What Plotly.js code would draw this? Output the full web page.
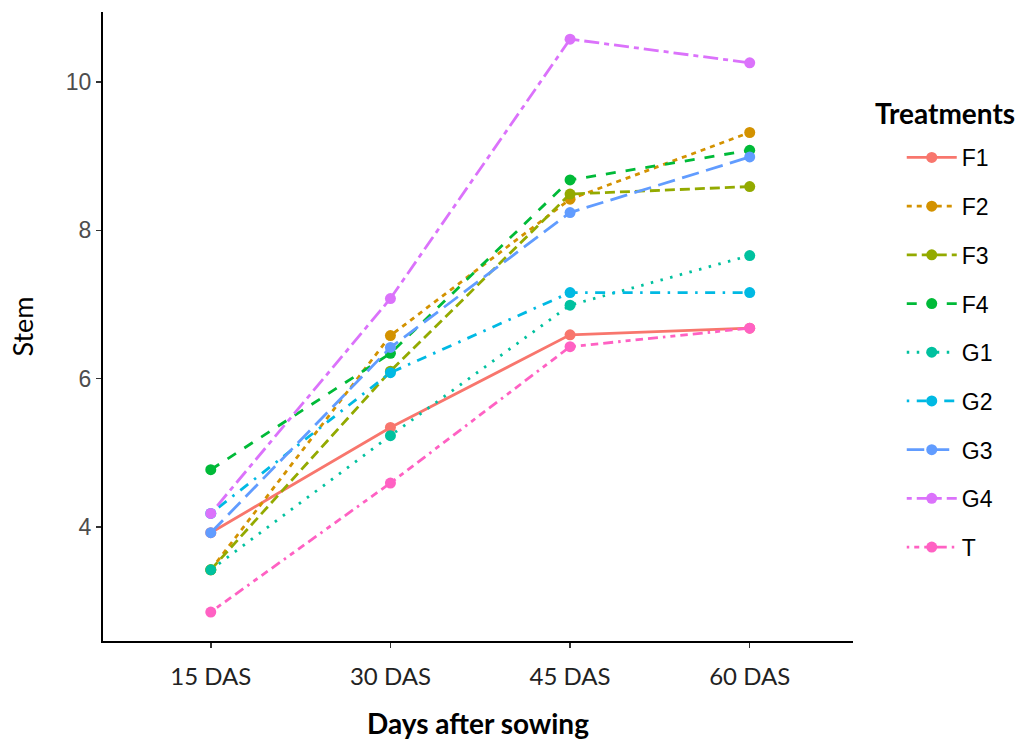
<!DOCTYPE html>
<html>
<head>
<meta charset="utf-8">
<script src="https://cdn.plot.ly/plotly-3.0.1.min.js"></script>
<style>html,body{margin:0;padding:0;background:#fff;}#chart{width:1022px;height:740px;}</style>
</head>
<body>
<div id="chart"></div>
<script>
const days = ["15 DAS", "30 DAS", "45 DAS", "60 DAS"];
const treatments = ["F1", "F2", "F3", "F4", "G1", "G2", "G3", "G4", "T"];
const F1 = [3.92, 5.34, 6.59, 6.68];
const F2 = [3.42, 6.58, 8.42, 9.32];
const F3 = [3.42, 6.10, 8.49, 8.59];
const F4 = [4.77, 6.34, 8.68, 9.08];
const G1 = [3.42, 5.23, 6.99, 7.66];
const G2 = [4.18, 6.08, 7.16, 7.16];
const G3 = [3.92, 6.42, 8.24, 8.99];
const G4 = [4.18, 7.08, 10.58, 10.26];
const T  = [2.85, 4.59, 6.43, 6.68];
const seriesValues = [F1, F2, F3, F4, G1, G2, G3, G4, T];

const colors = ["#F8766D", "#D39200", "#93AA00", "#00BA38", "#00C19F", "#00B9E3", "#619CFF", "#DB72FB", "#FF61C3"];
const dashes = ["solid", "5px,5px", "10px,5px", "10px,10px", "2.5px,7.5px", "2.5px,7.5px,10px,7.5px", "17.5px,7.5px", "5px,5px,15px,5px", "2.5px,5px,5px,5px,7.5px,5px,10px,5px"];

const traces = treatments.map((name, i) => ({
  type: "scatter",
  mode: "lines+markers",
  name: name,
  x: days,
  y: seriesValues[i],
  legendgroup: name,
  line: {color: colors[i], width: 2.8, dash: dashes[i]},
  marker: {color: colors[i], size: 11}
}));

const layout = {
  width: 1022, height: 740,
  paper_bgcolor: "#fff", plot_bgcolor: "#fff",
  margin: {l: 103, r: 169, t: 12, b: 99},
  showlegend: true,
  legend: {
    x: 1.065, xanchor: "left", y: 0.8029, yanchor: "top",
    font: {family: "Liberation Sans, Arial, sans-serif", size: 23, color: "#000"},
    tracegroupgap: 15.8,
    itemwidth: 50
  },
  annotations: [{
    text: "<b>Treatments</b>", showarrow: false,
    xref: "paper", yref: "paper", x: 1.0267, xanchor: "left", y: 0.8394, yanchor: "middle",
    font: {family: "Lato, Open Sans, sans-serif", size: 28, color: "#000"}
  }],
  xaxis: {
    type: "category",
    range: [-0.6, 3.575],
    showgrid: false, zeroline: false,
    showline: true, linecolor: "#000", linewidth: 2,
    ticks: "outside", ticklen: 5, tickwidth: 1.5, tickcolor: "#333",
    ticklabelstandoff: 8,
    tickfont: {family: "Lato, Open Sans, sans-serif", size: 24, color: "#222"},
    title: {text: "<b>Days after sowing</b>", font: {family: "Lato, Open Sans, sans-serif", size: 28, color: "#000"}, standoff: 27}
  },
  yaxis: {
    range: [2.459, 10.946],
    tickvals: [4, 6, 8, 10],
    showgrid: false, zeroline: false,
    showline: true, linecolor: "#000", linewidth: 2,
    ticks: "outside", ticklen: 5, tickwidth: 1.5, tickcolor: "#333",
    tickfont: {family: "Liberation Sans, Arial, sans-serif", size: 23, color: "#4d4d4d"},
    title: {text: "Stem", font: {family: "Lato, Open Sans, sans-serif", size: 27, color: "#000"}, standoff: 24}
  }
};

Plotly.newPlot("chart", traces, layout, {displayModeBar: false, staticPlot: true});
</script>
</body>
</html>
